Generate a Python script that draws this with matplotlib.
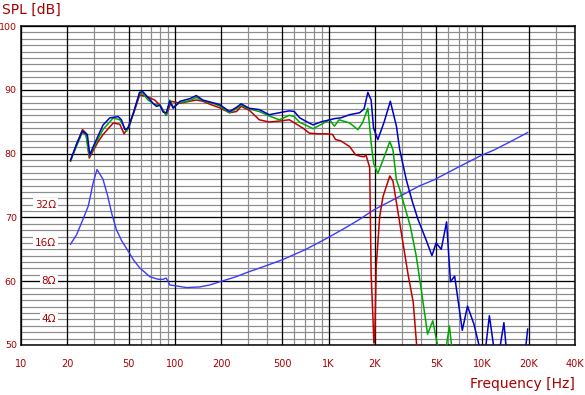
import matplotlib
matplotlib.use("Agg")
import matplotlib.pyplot as plt
import numpy as np

# ---------------- data ----------------
blue_f = [21, 23, 25, 27, 28, 29.5, 32, 34.2, 37.8, 42.8, 45, 47.3, 49.8, 54, 59, 62, 67, 72, 76, 80,
          84, 88, 92.8, 97.6, 108, 125, 138, 152, 175, 195, 227, 250, 270, 305, 354, 411, 478, 555,
          598, 649, 720, 792, 900, 1017, 1100, 1200, 1370, 1590, 1700, 1800, 1890, 1960, 2090, 2300,
          2520, 2760, 2900, 3200, 3500, 3810, 4300, 4700, 5000, 5400, 5850, 6200, 6600, 7400, 8000,
          8800, 9500, 10200, 11100, 11800, 12500, 13800, 14600, 16000, 18600, 19700]
blue_db = [79.0, 81.5, 83.5, 83.0, 79.8, 81.1, 83.0, 84.5, 85.6, 85.8, 85.3, 83.8, 84.0, 86.5, 89.6,
           89.7, 88.8, 87.9, 87.4, 87.6, 86.5, 86.4, 88.2, 87.1, 88.2, 88.6, 89.1, 88.4, 88.0, 87.7,
           86.6, 87.2, 87.8, 87.1, 86.9, 86.1, 86.4, 86.7, 86.6, 85.6, 85.0, 84.5, 85.0, 85.3, 85.5,
           85.6, 86.1, 86.4, 87.0, 89.6, 88.4, 84.0, 82.2, 85.0, 88.2, 84.3, 80.6, 75.9, 72.5, 69.7,
           66.5, 64.0, 66.0, 65.0, 69.3, 59.9, 60.8, 52.3, 56.1, 53.3, 50.0, 47.0, 54.6, 50.0, 47.0,
           53.5, 47.0, 47.0, 47.0, 52.5]

green_f = [21, 23, 25.1, 26.5, 27.8, 29.5, 32, 34.2, 39.8, 43.9, 48.6, 50.5, 54, 59.1, 62, 67, 74, 80,
           88, 92.8, 97.6, 108, 125, 138, 152, 175, 195, 227, 250, 270, 305, 354, 411, 478, 555, 598,
           649, 720, 792, 900, 1017, 1090, 1170, 1370, 1550, 1660, 1800, 1890, 1960, 2090, 2300, 2500,
           2620, 2760, 2900, 3400, 3710, 4000, 4400, 4760, 5100, 5600, 6100, 6500]
green_db = [78.9, 81.2, 83.4, 82.8, 79.6, 80.8, 82.5, 83.8, 85.6, 85.3, 83.5, 84.2, 86.5, 89.5, 89.4,
            88.4, 87.7, 87.6, 86.0, 88.4, 87.3, 88.0, 88.3, 88.8, 88.3, 87.9, 87.5, 86.4, 87.0, 87.6,
            87.0, 86.6, 85.9, 85.3, 86.0, 85.8, 84.9, 84.4, 83.9, 84.6, 85.3, 84.3, 85.3, 84.8, 83.75,
            84.8, 87.1, 81.7, 78.5, 76.9, 79.5, 81.9, 80.6, 75.9, 74.4, 68.6, 64.0, 58.75, 51.7, 53.8,
            50.0, 47.0, 53.0, 47.0]

red_f = [21, 23, 25.1, 26.5, 27.8, 29.5, 32, 34.2, 39.8, 43.9, 46.8, 49.8, 54, 59.1, 65.4, 74, 80, 88,
         95, 108, 125, 138, 152, 175, 195, 227, 252, 270, 305, 354, 411, 478, 555, 620, 680, 750, 850,
         960, 1060, 1110, 1200, 1370, 1500, 1600, 1700, 1750, 1850, 1890, 1940, 1970, 2000, 2040, 2150,
         2260, 2500, 2620, 2970, 3300, 3550, 3750]
red_db = [78.8, 81.5, 83.75, 83.2, 79.3, 80.5, 82.0, 83.0, 84.8, 84.6, 83.1, 84.2, 86.3, 89.2, 88.95,
          88.4, 87.6, 86.0, 88.2, 87.9, 88.2, 88.4, 88.2, 87.6, 87.2, 86.4, 86.6, 87.4, 86.8, 85.3,
          84.95, 85.1, 85.3, 84.6, 84.0, 83.2, 83.1, 83.1, 83.0, 82.2, 82.0, 81.1, 79.8, 79.6, 79.5,
          79.8, 77.8, 61.1, 54.6, 50.3, 52.0, 62.4, 70.2, 73.3, 76.5, 75.7, 67.6, 60.8, 56.7, 49.5]

imp_f = [21, 23, 24.8, 27.4, 29.5, 31.2, 34.1, 36.5, 39.0, 41.7, 45, 49.8, 54, 59.1, 68.8, 78, 84, 88,
         92.8, 100, 119, 145, 168, 205, 250, 305, 400, 505, 713, 987, 1370, 1590, 1990, 2900, 3870,
         4860, 7000, 9800, 12000, 15000, 19700]
imp_db = [65.8, 67.3, 69.2, 71.8, 75.5, 77.5, 76.0, 73.5, 70.5, 68.1, 66.4, 64.7, 63.3, 62.1, 60.7,
          60.3, 60.3, 60.5, 59.4, 59.3, 59.0, 59.1, 59.4, 60.05, 60.7, 61.5, 62.5, 63.4, 65.0, 66.8,
          68.75, 69.7, 71.25, 73.3, 74.9, 75.9, 77.9, 79.7, 80.6, 81.8, 83.3]

x_ticks = [10, 20, 50, 100, 200, 500, 1000, 2000, 5000, 10000, 20000, 40000]
x_tick_labels = ["10", "20", "50", "100", "200", "500", "1K", "2K", "5K", "10K", "20K", "40K"]
y_ticks = [50, 60, 70, 80, 90, 100]
imp_label_db = [54, 60, 66, 72]
imp_label_text = ["4Ω", "8Ω", "16Ω", "32Ω"]

# ---------------- figure ----------------
W, H = 585, 395
fig = plt.figure(figsize=(W / 100, H / 100), dpi=100)
ax = fig.add_axes([21 / W, (H - 345) / H, (575 - 21) / W, (345 - 26) / H])
ax.set_xscale("log")
ax.set_xlim(10, 40000)
ax.set_ylim(50, 100)

txt_col = "#A80000"
gray = "#8c8c8c"
lw_px = 0.72

# grid
minor_x = []
for dec in [10, 100, 1000, 10000]:
    for k in range(1, 10):
        v = dec * k
        if v <= 40000:
            minor_x.append(v)
major_x = [10, 20, 50, 100, 200, 500, 1000, 2000, 5000, 10000, 20000, 40000]
for v in minor_x:
    if v not in major_x:
        ax.axvline(v, color=gray, lw=lw_px * 1.2, zorder=1)
for v in major_x:
    ax.axvline(v, color="black", lw=lw_px * 1.3, zorder=1.2)
for d in range(50, 101):
    if d % 10 == 0:
        ax.axhline(d, color="black", lw=lw_px * 1.3, zorder=1.2)
    else:
        ax.axhline(d, color=gray, lw=lw_px * 1.2, zorder=1)

for s in ax.spines.values():
    s.set_color("black")
    s.set_linewidth(lw_px * 1.5)

# curves
ax.plot(imp_f, imp_db, color="#3a3aff", lw=1.0, zorder=3)
ax.plot(red_f, red_db, color="#c00000", lw=1.1, zorder=4)
ax.plot(green_f, green_db, color="#00a800", lw=1.1, zorder=5)
ax.plot(blue_f, blue_db, color="#0000c8", lw=1.1, zorder=6)

# ticks
ax.set_xticks(x_ticks)
ax.set_xticklabels(x_tick_labels)
ax.xaxis.set_minor_locator(matplotlib.ticker.NullLocator())
ax.set_yticks(y_ticks)
ax.set_yticklabels([str(v) for v in y_ticks])
ax.tick_params(axis="both", length=0, colors=txt_col)
ax.tick_params(axis="x", pad=10, labelsize=7)
ax.tick_params(axis="y", pad=3, labelsize=6.8)

# impedance scale labels
for d, t in zip(imp_label_db, imp_label_text):
    ax.annotate(t, xy=(0.0635, d), xycoords=("axes fraction", "data"),
                ha="right", va="center", fontsize=7.5, color=txt_col, zorder=7,
                bbox=dict(boxstyle="square,pad=0.15", fc="white", ec="none"))

# axis titles
fig.text(2 / W, 1 - 10 / H, "SPL [dB]", ha="left", va="center", fontsize=10, color=txt_col)
fig.text(575 / W, 1 - 384 / H, "Frequency [Hz]", ha="right", va="center", fontsize=10, color=txt_col)

fig.savefig("out.png", dpi=100, facecolor="white")
